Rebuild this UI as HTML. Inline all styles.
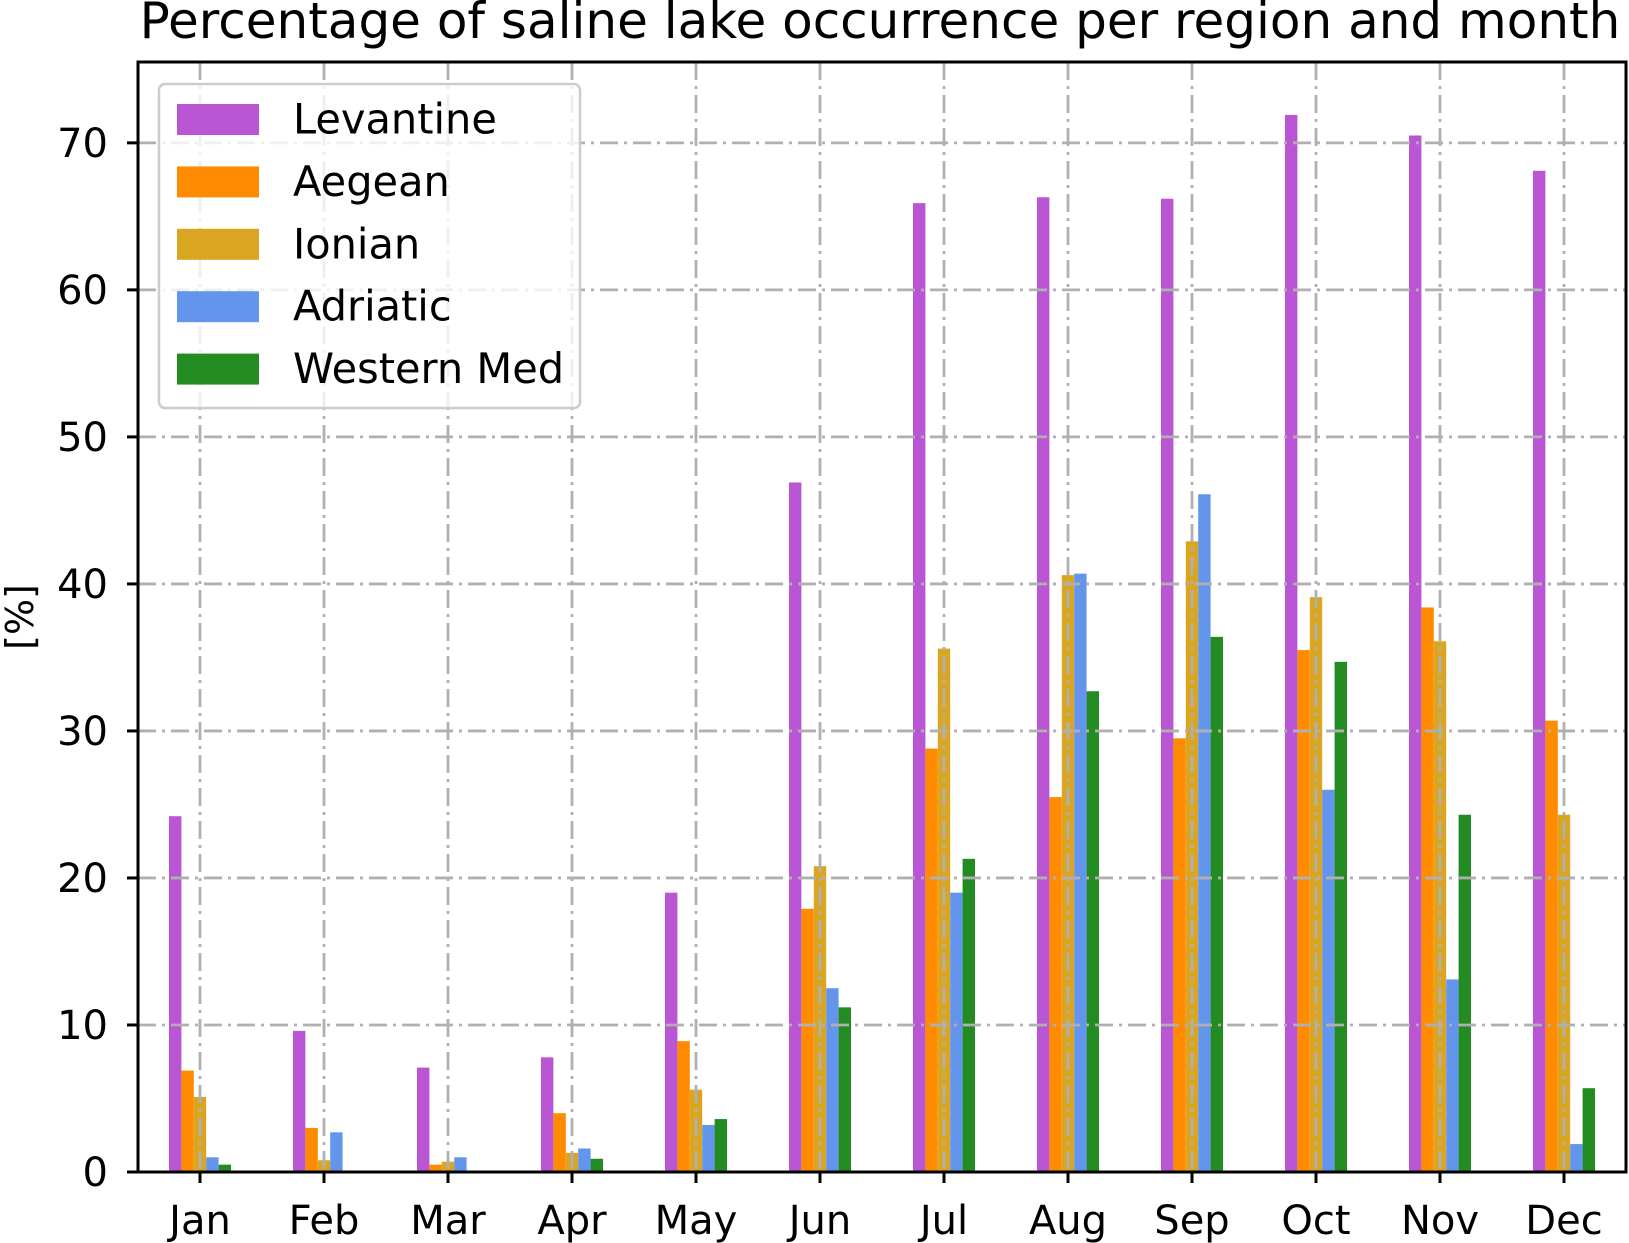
<!DOCTYPE html>
<html><head><meta charset="utf-8"><style>body{margin:0;background:#fff}svg{display:block}text{font-family:"DejaVu Sans","Liberation Sans",sans-serif}</style></head>
<body>
<svg id="chart" width="1629" height="1243" xmlns="http://www.w3.org/2000/svg">
<text x="880" y="38" font-size="50" text-anchor="middle">Percentage of saline lake occurrence per region and month</text>
<text transform="translate(33,617) rotate(-90)" font-size="38" text-anchor="middle">[%]</text>
<g id="bars"></g><g id="grid"></g><g id="axes"></g><g id="legend"></g>
</svg>
<script>
const months=["Jan","Feb","Mar","Apr","May","Jun","Jul","Aug","Sep","Oct","Nov","Dec"];
const yTicks=[0,10,20,30,40,50,60,70];
const seriesNames=["Levantine","Aegean","Ionian","Adriatic","Western Med"];
const seriesColors=["#ba55d3","#ff8c00","#daa520","#6495ed","#228b22"];
const levantine=[24.2,9.6,7.1,7.8,19.0,46.9,65.9,66.3,66.2,71.9,70.5,68.1];
const aegean=[6.9,3.0,0.5,4.0,8.9,17.9,28.8,25.5,29.5,35.5,38.4,30.7];
const ionian=[5.1,0.8,0.7,1.3,5.6,20.8,35.6,40.6,42.9,39.1,36.1,24.3];
const adriatic=[1.0,2.7,1.0,1.6,3.2,12.5,19.0,40.7,46.1,26.0,13.1,1.9];
const westernMed=[0.5,0,0,0.9,3.6,11.2,21.3,32.7,36.4,34.7,24.3,5.7];
const series=[levantine,aegean,ionian,adriatic,westernMed];
const L=138,R=1626,T=62,B=1172;
const x=v=>L+(v+0.5)/12*(R-L);
const y=v=>B-v/75.5*(B-T);
const NS="http://www.w3.org/2000/svg";
function mk(p,t,a){const e=document.createElementNS(NS,t);for(const k in a)e.setAttribute(k,a[k]);p.appendChild(e);return e;}
const gb=document.getElementById('bars'),gg=document.getElementById('grid'),ga=document.getElementById('axes'),gl=document.getElementById('legend');
const bw=0.1;
series.forEach((s,si)=>{s.forEach((v,i)=>{
 const x0=x(i+(si-2)*bw-bw/2),x1=x(i+(si-2)*bw+bw/2);
 const r=mk(gb,'rect',{x:x0,y:y(v),width:x1-x0,height:B-y(v),fill:seriesColors[si]});
 
 
});});
const gs={stroke:'#b0b0b0','stroke-width':2.8,'stroke-dasharray':'18 6 3 6',fill:'none'};
months.forEach((m,i)=>{
 const l=mk(gg,'line',Object.assign({x1:x(i),x2:x(i),y1:T,y2:B},gs));
 
 
 const t=mk(ga,'line',{x1:x(i),x2:x(i),y1:B,y2:B+11,stroke:'#000','stroke-width':3});
 
 
 const tx=mk(ga,'text',{x:x(i),y:1234,'font-size':40,'text-anchor':'middle'});tx.textContent=m;
 
 
});
yTicks.forEach(v=>{
 const l=mk(gg,'line',Object.assign({x1:L,x2:R,y1:y(v),y2:y(v)},gs));
 
 
 const t=mk(ga,'line',{x1:L-11,x2:L,y1:y(v),y2:y(v),stroke:'#000','stroke-width':3});
 
 
 const tx=mk(ga,'text',{x:L-30,y:y(v)+14,'font-size':40,'text-anchor':'end'});tx.textContent=v;
 
 
});
const fr=mk(ga,'rect',{x:L,y:T,width:R-L,height:B-T,fill:'none',stroke:'#000','stroke-width':3});


const lb=mk(gl,'rect',{x:159,y:84,width:421,height:324,rx:6,fill:'#fff','fill-opacity':0.8,stroke:'#ccc','stroke-width':2.5});


seriesNames.forEach((n,i)=>{
 const cy=119.5+i*62.4;
 const p=mk(gl,'rect',{x:177,y:cy-15.5,width:82,height:31,fill:seriesColors[i]});
 
 
 const t=mk(gl,'text',{x:293,y:cy+14,'font-size':41.5});t.textContent=n;
 
 
});
</script>
</body></html>
